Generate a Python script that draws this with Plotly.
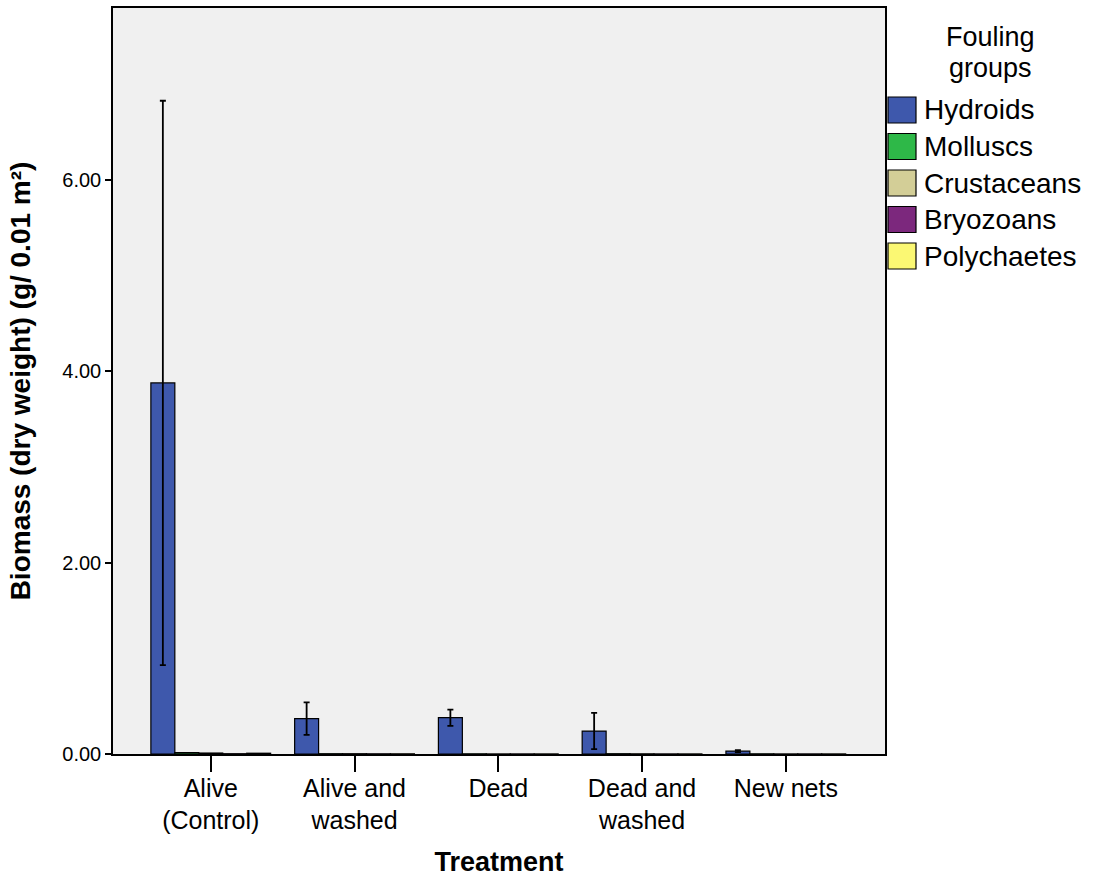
import plotly.graph_objects as go

categories = ["Alive<br>(Control)", "Alive and<br>washed", "Dead", "Dead and<br>washed", "New nets"]
groups = ["Hydroids", "Molluscs", "Crustaceans", "Bryozoans", "Polychaetes"]
colors = ["#3E58AC", "#2EB848", "#D3CE97", "#7C287D", "#FBF873"]
y_ticks = [0, 2, 4, 6]

hydroids = [3.88, 0.37, 0.38, 0.24, 0.03]
hydroids_err = [2.95, 0.17, 0.085, 0.19, 0.01]
molluscs = [0.015, 0.003, 0.002, 0.003, 0.002]
crustaceans = [0.01, 0.003, 0.001, 0.002, 0.001]
bryozoans = [0.003, 0.002, 0.001, 0.001, 0.001]
polychaetes = [0.008, 0.002, 0.001, 0.001, 0.001]

values = [hydroids, molluscs, crustaceans, bryozoans, polychaetes]
errors = [hydroids_err, None, None, None, None]

# plot-area geometry in pixels (layout only)
W, H = 1095, 877
L, R, T, B = 113, 210, 8, 123
PW, PH = W - L - R, H - T - B

def px(xp):
    return (xp - L) / PW

def py(yp):
    return (H - B - yp) / PH

FONT = "Arial, Liberation Sans, sans-serif"

fig = go.Figure()
for name, vals, col, err in zip(groups, values, colors, errors):
    kw = {}
    if err is not None:
        kw["error_y"] = dict(type="data", array=err, visible=True, color="black", thickness=1.8, width=3)
    fig.add_trace(go.Bar(
        x=categories, y=vals, name=name,
        marker=dict(color=col, line=dict(color="black", width=1.2)),
        showlegend=False, **kw
    ))

# manual legend (large square swatches like the original)
shapes = []
annotations = []
top0, step, sw_h = 97, 36.5, 26
for i, (name, col) in enumerate(zip(groups, colors)):
    t = top0 + i * step
    shapes.append(dict(type="rect", xref="paper", yref="paper",
                       x0=px(888), x1=px(916), y0=py(t + sw_h), y1=py(t),
                       fillcolor=col, line=dict(color="black", width=1.2)))
    annotations.append(dict(text=name, xref="paper", yref="paper", x=px(922), y=py(t + sw_h / 2),
                            xanchor="left", yanchor="middle", showarrow=False,
                            font=dict(size=28, family=FONT, color="black")))
for txt, yc in [("Fouling", 37), ("groups", 68)]:
    annotations.append(dict(text=txt, xref="paper", yref="paper", x=px(990), y=py(yc),
                            xanchor="center", yanchor="middle", showarrow=False,
                            font=dict(size=27, family=FONT, color="black")))

fig.update_layout(
    width=W, height=H,
    margin=dict(l=L, r=R, t=T, b=B),
    paper_bgcolor="white", plot_bgcolor="#F0F0F0",
    barmode="group", bargap=0.167, bargroupgap=0,
    font=dict(family=FONT, color="black"),
    showlegend=False,
    shapes=shapes, annotations=annotations,
    xaxis=dict(
        range=[-0.68, 4.69], showline=True, linecolor="black", linewidth=1.5, mirror=True,
        ticks="outside", ticklen=16, tickwidth=1.5, tickcolor="black",
        tickfont=dict(size=25), ticklabelstandoff=-5, showgrid=False, automargin=False,
        title=dict(text="<b>Treatment</b>", font=dict(size=27), standoff=19),
    ),
    yaxis=dict(
        range=[0, 7.8], showline=True, linecolor="black", linewidth=1.5, mirror=True,
        ticks="outside", ticklen=6, tickwidth=1.5, tickcolor="black",
        tickvals=y_ticks, tickformat=".2f", tickfont=dict(size=20), showgrid=False, zeroline=False,
        automargin=False,
        title=dict(text="<b>Biomass (dry weight) (g/ 0.01 m²)</b>", font=dict(size=28), standoff=24),
    ),
)

fig.write_html("out.html", config={"displayModeBar": False},
               post_script="document.body.style.margin='0';")
